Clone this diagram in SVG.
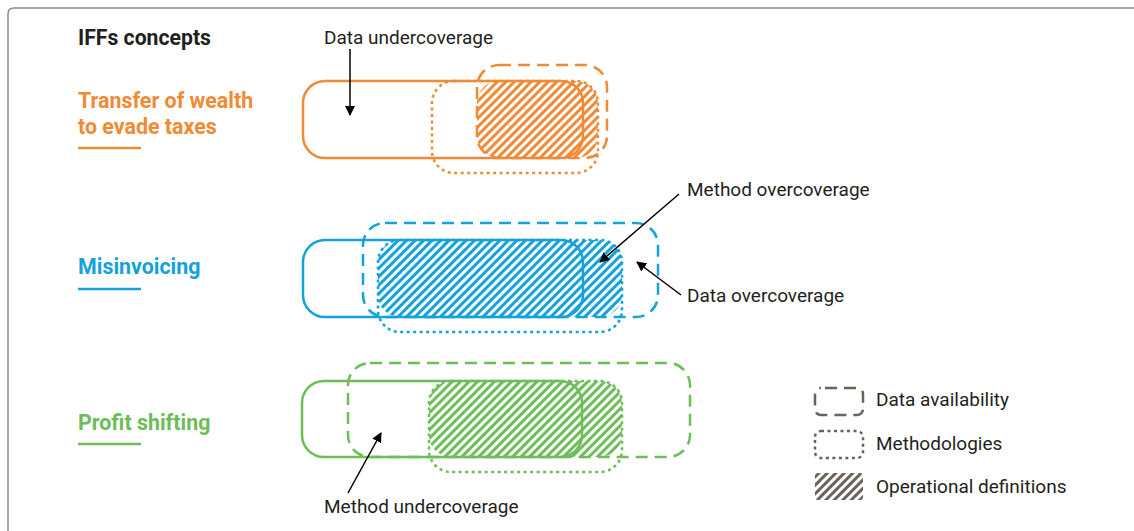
<svg xmlns="http://www.w3.org/2000/svg" width="1134" height="531" viewBox="0 0 1134 531">
<defs>
<style>
.t{font-family:Roboto,"Liberation Sans",sans-serif;}
.ann{font-size:19px;fill:#231f20;}
.head{font-weight:bold;}
.sub{font-size:21.4px;}
.sol{fill:none;stroke-width:2.5;}
.dash{fill:none;stroke-width:2.5;stroke-dasharray:12 7;}
.dot{fill:none;stroke-width:2.5;stroke-dasharray:3 3.5;}
.o{stroke:#f08a35;}
.b{stroke:#14a2dc;}
.g{stroke:#6dbd58;}
.lg{stroke:#6b6259;}
.arr{stroke:#000;stroke-width:1.5;fill:none;marker-end:url(#ah);}
</style>
<marker id="ah" viewBox="0 0 10 10" refX="9" refY="5" markerWidth="10" markerHeight="10" markerUnits="userSpaceOnUse" orient="auto">
<path d="M0 0 L10 5 L0 10 z" fill="#000"/>
</marker>
<pattern id="hO" width="6" height="6" patternUnits="userSpaceOnUse" patternTransform="rotate(45)"><rect x="0" y="0" width="3" height="6" fill="#f08a35"/></pattern>
<pattern id="hB" width="6" height="6" patternUnits="userSpaceOnUse" patternTransform="rotate(45)"><rect x="0" y="0" width="3" height="6" fill="#14a2dc"/></pattern>
<pattern id="hG" width="6" height="6" patternUnits="userSpaceOnUse" patternTransform="rotate(45)"><rect x="0" y="0" width="3" height="6" fill="#6dbd58"/></pattern>
<pattern id="hL" width="6" height="6" patternUnits="userSpaceOnUse" patternTransform="rotate(45)"><rect x="0" y="0" width="3" height="6" fill="#6b6259"/></pattern>
</defs>
<rect width="1134" height="531" fill="#fff"/>
<path d="M8 531 V14 Q8 8 14 8 H1134" fill="none" stroke="#8a8a8a" stroke-width="1.5"/>

<g id="title"><text class="t head" x="78" y="45" fill="#231f20" font-size="21.2">IFFs concepts</text></g>

<g id="transfer">
<text class="t head sub" x="78" y="108" fill="#f08a35">Transfer of wealth</text>
<text class="t head sub" x="78" y="134" fill="#f08a35">to evade taxes</text>
<line x1="78" y1="148" x2="141" y2="148" stroke="#f08a35" stroke-width="2.5"/>
<rect x="477" y="81" width="121" height="77" rx="22" fill="url(#hO)"/>
<rect class="sol o" x="303" y="81" width="280" height="77" rx="22"/>
<rect class="dash o" x="477" y="65" width="130" height="93" rx="22"/>
<rect class="dot o" x="432" y="81" width="166" height="92" rx="22"/>
</g>

<g id="misinvoicing">
<text class="t head sub" x="78" y="274" fill="#14a2dc">Misinvoicing</text>
<line x1="78" y1="289" x2="141" y2="289" stroke="#14a2dc" stroke-width="2.5"/>
<rect x="378" y="240" width="244" height="77" rx="22" fill="url(#hB)"/>
<rect class="sol b" x="303" y="240" width="280" height="77" rx="22"/>
<rect class="dash b" x="363" y="223" width="295" height="94" rx="22"/>
<rect class="dot b" x="378" y="240" width="244" height="92" rx="22"/>
</g>

<g id="profit">
<text class="t head sub" x="78" y="430" fill="#6dbd58">Profit shifting</text>
<line x1="78" y1="444" x2="141" y2="444" stroke="#6dbd58" stroke-width="2.5"/>
<rect x="429" y="381" width="193" height="76" rx="22" fill="url(#hG)"/>
<rect class="sol g" x="302" y="381" width="280" height="76" rx="22"/>
<rect class="dash g" x="348" y="363" width="342" height="94" rx="22"/>
<rect class="dot g" x="429" y="381" width="193" height="91" rx="22"/>
</g>

<g id="legend">
<rect class="dash lg" x="815" y="388" width="48" height="27" rx="6" stroke-dasharray="14 10" stroke-dashoffset="-4"/>
<text class="t ann" x="876" y="406">Data availability</text>
<rect class="dot lg" x="815" y="431" width="48" height="27" rx="6"/>
<text class="t ann" x="876" y="450">Methodologies</text>
<rect x="815" y="473" width="48" height="27" rx="3" fill="url(#hL)"/>
<text class="t ann" x="876" y="493">Operational definitions</text>
</g>

<g id="annotations">
<text class="t ann" x="324" y="44">Data undercoverage</text>
<text class="t ann" x="687" y="196">Method overcoverage</text>
<text class="t ann" x="687" y="302">Data overcoverage</text>
<text class="t ann" x="324" y="513">Method undercoverage</text>
</g>

<g id="connectors">
<line class="arr" x1="350" y1="49" x2="350" y2="115"/>
<line class="arr" x1="679" y1="194" x2="600" y2="262"/>
<line class="arr" x1="681" y1="295" x2="637" y2="262"/>
<line class="arr" x1="348" y1="493" x2="381" y2="433"/>
</g>
</svg>
